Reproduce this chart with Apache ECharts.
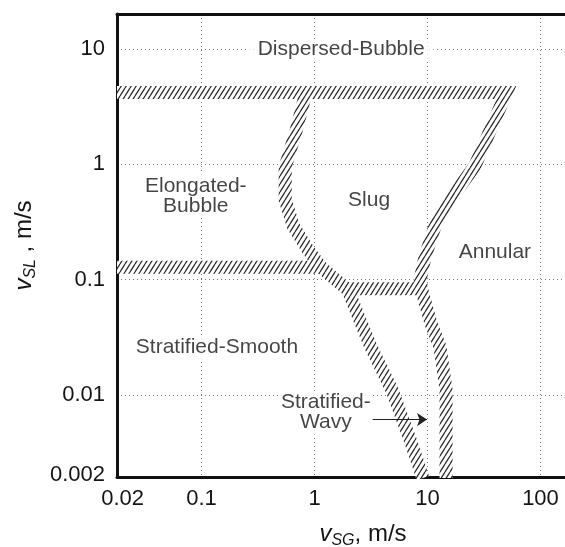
<!DOCTYPE html>
<html><head><meta charset="utf-8">
<script src="https://cdn.jsdelivr.net/npm/echarts@6/dist/echarts.min.js"></script>
<style>html,body{margin:0;padding:0;background:#fff}#c{width:565px;height:547px}</style>
</head><body><div id="c"></div>
<script>
// ---- data (real units: vSG, vSL in m/s) ----
const xTickValues = [0.02, 0.1, 1, 10, 100];
const xTickLabels = ['0.02', '0.1', '1', '10', '100'];
const yTickValues = [0.002, 0.01, 0.1, 1, 10];
const yTickLabels = ['0.002', '0.01', '0.1', '1', '10'];
const xGridValues = [0.1, 1, 10, 100];
const yGridValues = [0.01, 0.1, 1, 10];
const xRange = [0.01786, 164.8];
const yRange = [0.001938, 20.1];

// transition bands (centre lines), [vSG, vSL]
const bandTopRight = [[0.01786, 4.2], [50, 4.2], [26.3, 0.97], [17.5, 0.56], [11.9, 0.31], [9.5, 0.157],
  [8.6, 0.099], [8.9, 0.081], [10.7, 0.042], [12.9, 0.026], [14.6, 0.011], [14.6, 0.0019]];
const bandLeft = [[0.84, 4.2], [0.69, 1.98], [0.55, 0.95], [0.55, 0.49], [0.65, 0.29], [0.88, 0.18],
  [1.16, 0.126], [1.98, 0.081], [2.58, 0.042], [3.16, 0.026], [4.85, 0.011], [7.0, 0.0041], [9.1, 0.0019]];
const bandLowerLeft = [[0.01786, 0.128], [1.2, 0.128]];
const bandMiddle = [[1.9, 0.083], [8.9, 0.083]];

const regionLabels = [
  { text: 'Dispersed-Bubble', vSG: 1.72, vSL: 10, pad: [0, 9] },
  { text: 'Elongated-\nBubble', vSG: 0.089, vSL: 0.53, pad: [2, 4] },
  { text: 'Slug', vSG: 3.04, vSL: 0.49, pad: [2, 4] },
  { text: 'Annular', vSG: 39.5, vSL: 0.171, pad: [2, 4] },
  { text: 'Stratified-Smooth', vSG: 0.137, vSL: 0.0257, pad: [2, 4] },
  { text: 'Stratified-\nWavy', vSG: 1.26, vSL: 0.0070, pad: [2, 2] }
];
const arrowFrom = [3.23, 0.0061];
const arrowTo = [9.9, 0.0061];

// ---- helpers ----
const L = Math.log10;
const FONT = '"Liberation Sans", Arial, Helvetica, sans-serif';
const INK = '#151515';
function lookup(vals, labels) {
  return function (v) {
    for (let i = 0; i < vals.length; i++) if (Math.abs(L(vals[i]) - v) < 1e-6) return labels[i];
    return '';
  };
}
const pc = document.createElement('canvas');
pc.width = 5; pc.height = 8;
const g = pc.getContext('2d');
g.fillStyle = '#fff'; g.fillRect(0, 0, 5, 8);
g.strokeStyle = '#2a2a2a'; g.lineWidth = 1.25;
g.beginPath();
for (let k = -1; k <= 1; k++) { g.moveTo(k * 5, 8); g.lineTo(k * 5 + 5, 0); }
g.stroke();
const hatch = { image: pc, repeat: 'repeat' };

function band(data) {
  return {
    type: 'line', data: data.map(p => [L(p[0]), L(p[1])]), symbol: 'none', silent: true, z: 3,
    lineStyle: { width: 13, color: hatch, join: 'miter', cap: 'butt' }
  };
}
const gridLine = { show: true, lineStyle: { color: '#777', width: 1, type: [1, 3] } };
const nameRich = {
  v: { fontSize: 24, fontStyle: 'italic', fontFamily: FONT, color: INK, lineHeight: 30 },
  s: { fontSize: 16, fontStyle: 'italic', fontFamily: FONT, color: INK, lineHeight: 14, verticalAlign: 'bottom' },
  n: { fontSize: 24, fontFamily: FONT, color: INK, lineHeight: 30 }
};

const chart = echarts.init(document.getElementById('c'), null, { renderer: 'canvas' });
chart.setOption({
  animation: false,
  backgroundColor: '#fff',
  grid: { left: 117, right: 0, top: 14, bottom: 70, containLabel: false, outerBoundsMode: 'none' },
  xAxis: [{
    type: 'value', position: 'bottom', min: L(xRange[0]), max: L(xRange[1]),
    axisLine: { show: true, onZero: false, lineStyle: { color: '#111', width: 3 } },
    axisTick: { show: false, customValues: xGridValues.map(L) },
    axisLabel: { customValues: xTickValues.map(L), formatter: lookup(xTickValues, xTickLabels),
      fontSize: 22, fontFamily: FONT, color: INK, margin: 11 },
    splitLine: gridLine,
    name: '{v|v}{s|SG}{n|, m/s}', nameLocation: 'middle', nameGap: 42,
    nameTextStyle: { padding: [0, 0, 0, 44], rich: nameRich }
  }, {
    type: 'value', position: 'top', min: L(xRange[0]), max: L(xRange[1]),
    axisLine: { show: true, onZero: false, lineStyle: { color: '#111', width: 3 } },
    axisTick: { show: false }, axisLabel: { show: false }, splitLine: { show: false }
  }],
  yAxis: {
    type: 'value', min: L(yRange[0]), max: L(yRange[1]),
    axisLine: { show: true, onZero: false, lineStyle: { color: '#111', width: 3 } },
    axisTick: { show: false, customValues: yGridValues.map(L) },
    axisLabel: { customValues: yTickValues.map(L), formatter: lookup(yTickValues, yTickLabels),
      fontSize: 22, fontFamily: FONT, color: INK, margin: 12 },
    splitLine: gridLine,
    name: '{v|v}{s|SL}{n| , m/s}', nameLocation: 'middle', nameGap: 78, nameRotate: 90,
    nameTextStyle: { rich: nameRich }
  },
  series: [
    band(bandTopRight), band(bandLeft), band(bandLowerLeft), band(bandMiddle),
    {
      type: 'scatter', silent: true, z: 5, symbolSize: 1, itemStyle: { color: 'rgba(0,0,0,0)' },
      data: regionLabels.map(r => ({ name: r.text, value: [L(r.vSG), L(r.vSL)],
        label: { padding: r.pad } })),
      label: { show: true, position: 'inside', formatter: p => p.name, fontSize: 21, fontFamily: FONT,
        color: INK, backgroundColor: '#fff', lineHeight: 20, align: 'center' }
    },
    {
      type: 'line', data: [], silent: true, z: 6, color: '#222', itemStyle: { color: '#222' },
      markLine: {
        silent: true, symbol: ['none', 'arrow'], symbolSize: 10, label: { show: false },
        itemStyle: { color: '#222' },
        lineStyle: { color: '#222', width: 1.2, type: 'solid' },
        data: [[{ coord: [L(arrowFrom[0]), L(arrowFrom[1])] }, { coord: [L(arrowTo[0]), L(arrowTo[1])] }]]
      }
    }
  ]
});
</script></body></html>
